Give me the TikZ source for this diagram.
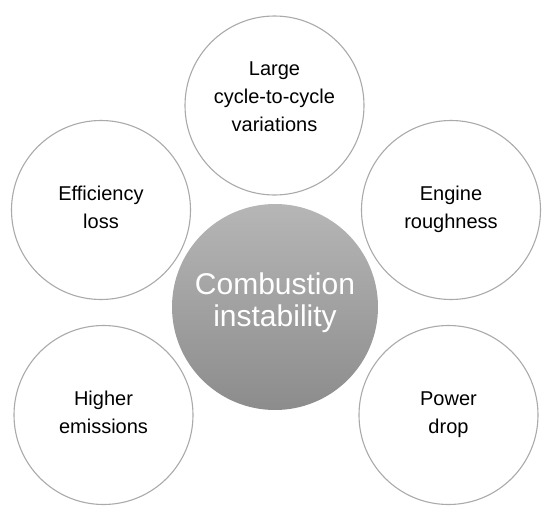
\documentclass[tikz,border=0pt]{standalone}
\usepackage{fontspec}
\setmainfont{Liberation Sans}
\usepackage{tikz}
\definecolor{ringgrey}{RGB}{170,170,170}
\definecolor{coretop}{RGB}{182,182,182}
\definecolor{corebottom}{RGB}{140,140,140}

\begin{document}
\begin{tikzpicture}[
    x=1pt, y=-1pt,
    every node/.style={align=center, inner sep=0pt, outer sep=0pt},
    effectbubble/.style={circle, draw=ringgrey, fill=white, line width=1.1pt, minimum size=179pt, text depth=5pt, font=\fontsize{20}{28}\selectfont},
    corebubble/.style={circle, top color=coretop, bottom color=corebottom, minimum size=206pt, text depth=14pt, text=white, font=\fontsize{30}{32}\selectfont}
]
\useasboundingbox (0,0) rectangle (550,514);

\node[corebubble] (core) at (275,307) {Combustion\\instability};

\node[effectbubble, text depth=17pt] (variations) at (274.5,105.5) {Large\\cycle-to-cycle\\variations};
\node[effectbubble] (efficiency) at (101,210) {Efficiency\\loss};
\node[effectbubble] (roughness) at (451,210) {Engine\\roughness};
\node[effectbubble] (emissions) at (103.5,415) {Higher\\emissions};
\node[effectbubble] (power) at (448.5,415) {Power\\drop};

\end{tikzpicture}
\end{document}
